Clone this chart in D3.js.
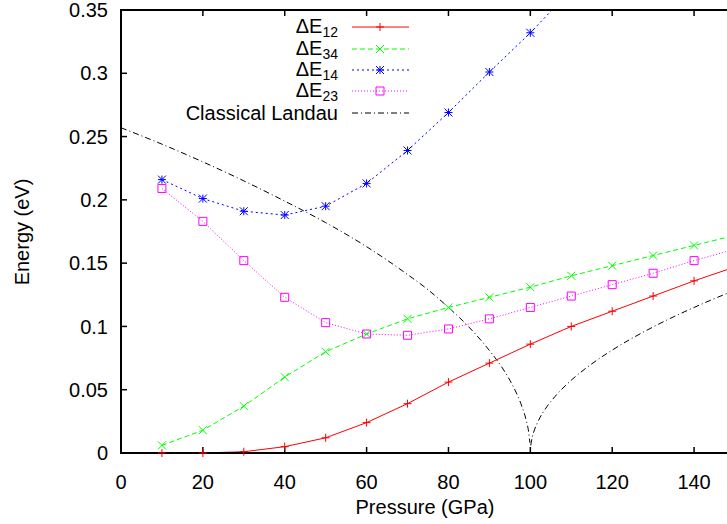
<!DOCTYPE html>
<html>
<head>
<meta charset="utf-8">
<script src="https://cdn.jsdelivr.net/npm/d3@7"></script>
<style>
  html, body { margin: 0; padding: 0; background: #fff; }
  svg { display: block; }
  text { font-family: "Liberation Sans", Arial, Helvetica, sans-serif; fill: #000; }
</style>
</head>
<body>
<svg id="chart" width="727" height="524"></svg>
<script>
// ---- data ----
const pressure = [10, 20, 30, 40, 50, 60, 70, 80, 90, 100, 110, 120, 130, 140, 150];
const dE12 = [0.000, 0.000, 0.001, 0.005, 0.012, 0.024, 0.039, 0.056, 0.071, 0.086, 0.100, 0.112, 0.124, 0.136, 0.147];
const dE34 = [0.006, 0.018, 0.037, 0.060, 0.080, 0.094, 0.106, 0.115, 0.123, 0.131, 0.140, 0.148, 0.156, 0.164, 0.172];
const dE14 = [0.216, 0.201, 0.191, 0.188, 0.195, 0.213, 0.239, 0.269, 0.301, 0.332, 0.366];
const dE23 = [0.209, 0.183, 0.152, 0.123, 0.103, 0.094, 0.093, 0.098, 0.106, 0.115, 0.124, 0.133, 0.142, 0.152, 0.161];

const landauPressureLow = [0, 10, 20, 30, 40, 50, 60, 70, 75, 80, 85, 90, 93, 95, 97, 98, 99, 99.6, 99.9];
const landauEnergyLow  = [0.257, 0.244, 0.230, 0.215, 0.199, 0.182, 0.163, 0.141, 0.129, 0.115, 0.0995, 0.081, 0.068, 0.0575, 0.0445, 0.0363, 0.0257, 0.0163, 0.008];
const landauPressureHigh = [100.1, 100.5, 101, 102, 104, 106, 110, 115, 120, 125, 130, 135, 140, 145, 150];
const landauEnergyHigh  = [0.006, 0.0129, 0.0182, 0.0257, 0.0364, 0.0445, 0.0575, 0.0704, 0.0813, 0.0909, 0.0996, 0.1076, 0.115, 0.122, 0.1286];

const xTicks = [0, 20, 40, 60, 80, 100, 120, 140];
const yTicks = [0, 0.05, 0.1, 0.15, 0.2, 0.25, 0.3, 0.35];
const yTickLabels = ["0", "0.05", "0.1", "0.15", "0.2", "0.25", "0.3", "0.35"];

// ---- layout ----
const svg = d3.select("#chart");
const x = d3.scaleLinear().domain([0, 150]).range([121, 735]);
const y = d3.scaleLinear().domain([0, 0.35]).range([453, 10]);
const FS = 20;

svg.append("defs").append("clipPath").attr("id", "plotclip")
  .append("rect").attr("x", x(0)).attr("y", y(0.35))
  .attr("width", x(150) - x(0)).attr("height", y(0) - y(0.35));

const plot = svg.append("g").attr("clip-path", "url(#plotclip)");

function markerPath(kind, s) {
  if (kind === "plus") return `M${-s},0H${s}M0,${-s}V${s}`;
  if (kind === "cross") return `M${-s},${-s}L${s},${s}M${-s},${s}L${s},${-s}`;
  if (kind === "star") return `M${-s},0H${s}M0,${-s}V${s}M${-s},${-s}L${s},${s}M${-s},${s}L${s},${-s}`;
  if (kind === "square") return `M${-s},${-s}H${s}V${s}H${-s}Z`;
  return "";
}

const series = [
  { name: "12", vals: dE12, color: "#ff0000", dash: null, marker: "plus" },
  { name: "34", vals: dE34, color: "#00ff00", dash: "5,3", marker: "cross" },
  { name: "14", vals: dE14, color: "#0000ff", dash: "2,3", marker: "star" },
  { name: "23", vals: dE23, color: "#ff00ff", dash: "1,2", marker: "square" }
];

const line = d3.line().x(d => x(d[0])).y(d => y(d[1]));

// Classical Landau curve (two branches)
const smooth = d3.line().x(d => x(d[0])).y(d => y(d[1])).curve(d3.curveMonotoneX);
const low = landauPressureLow.map((p, i) => [p, landauEnergyLow[i]]);
const high = landauPressureHigh.map((p, i) => [p, landauEnergyHigh[i]]);
[low, high].forEach(br => {
  plot.append("path").attr("d", smooth(br))
    .attr("fill", "none").attr("stroke", "#000").attr("stroke-width", 1)
    .attr("stroke-dasharray", "6,3,1,3");
});

series.forEach(s => {
  const pts = s.vals.map((v, i) => [pressure[i], v]);
  plot.append("path").attr("d", line(pts))
    .attr("fill", "none").attr("stroke", s.color).attr("stroke-width", 1)
    .attr("stroke-dasharray", s.dash);
});

// ---- frame & ticks ----
const axes = svg.append("g");
const x0 = x(0), x1 = x(150), yTop = y(0.35), yBot = y(0);
axes.append("rect").attr("x", x0).attr("y", yTop).attr("width", x1 - x0).attr("height", yBot - yTop)
  .attr("fill", "none").attr("stroke", "#000").attr("stroke-width", 2);

xTicks.forEach(t => {
  axes.append("line").attr("x1", x(t)).attr("x2", x(t)).attr("y1", yBot).attr("y2", yBot - 6)
    .attr("stroke", "#000").attr("stroke-width", 1.5);
  axes.append("line").attr("x1", x(t)).attr("x2", x(t)).attr("y1", yTop).attr("y2", yTop + 6)
    .attr("stroke", "#000").attr("stroke-width", 1.5);
  axes.append("text").attr("x", x(t)).attr("y", 489).attr("text-anchor", "middle")
    .attr("font-size", FS).text(t);
});
yTicks.forEach((t, i) => {
  axes.append("line").attr("x1", x0).attr("x2", x0 + 6).attr("y1", y(t)).attr("y2", y(t))
    .attr("stroke", "#000").attr("stroke-width", 1.5);
  axes.append("text").attr("x", 108).attr("y", y(t)).attr("dy", "0.36em").attr("text-anchor", "end")
    .attr("font-size", FS).text(yTickLabels[i]);
});

// markers drawn on top (not clipped, only in-range points)
const marks = svg.append("g");
series.forEach(s => {
  const pts = s.vals.map((v, i) => [pressure[i], v])
    .filter(d => d[1] <= 0.35 && x(d[0]) <= 731);
  marks.selectAll(null).data(pts).enter().append("path")
    .attr("transform", d => `translate(${x(d[0])},${y(d[1])})`)
    .attr("d", markerPath(s.marker, 4))
    .attr("fill", "none").attr("stroke", s.color).attr("stroke-width", 1);
});

svg.append("text").attr("x", 425).attr("y", 514).attr("text-anchor", "middle")
  .attr("font-size", FS).text("Pressure (GPa)");
svg.append("text").attr("transform", "translate(29,232) rotate(-90)").attr("text-anchor", "middle")
  .attr("font-size", FS).text("Energy (eV)");

// ---- legend ----
const legend = svg.append("g");
const legRows = [27, 49, 70, 91, 113];
series.forEach((s, i) => {
  const ly = legRows[i];
  const t = legend.append("text").attr("x", 338).attr("y", ly + 6).attr("text-anchor", "end").attr("font-size", FS);
  t.append("tspan").text("ΔE");
  t.append("tspan").attr("dy", 4).attr("font-size", 14).text(s.name);
  legend.append("line").attr("x1", 352).attr("x2", 409).attr("y1", ly).attr("y2", ly)
    .attr("stroke", s.color).attr("stroke-width", 1).attr("stroke-dasharray", s.dash);
  legend.append("path").attr("transform", `translate(380,${ly})`).attr("d", markerPath(s.marker, 4))
    .attr("fill", "none").attr("stroke", s.color).attr("stroke-width", 1);
});
legend.append("text").attr("x", 338).attr("y", legRows[4] + 7).attr("text-anchor", "end")
  .attr("font-size", FS).text("Classical Landau");
legend.append("line").attr("x1", 352).attr("x2", 409).attr("y1", legRows[4]).attr("y2", legRows[4])
  .attr("stroke", "#000").attr("stroke-width", 1).attr("stroke-dasharray", "6,3,1,3");
</script>
</body>
</html>
